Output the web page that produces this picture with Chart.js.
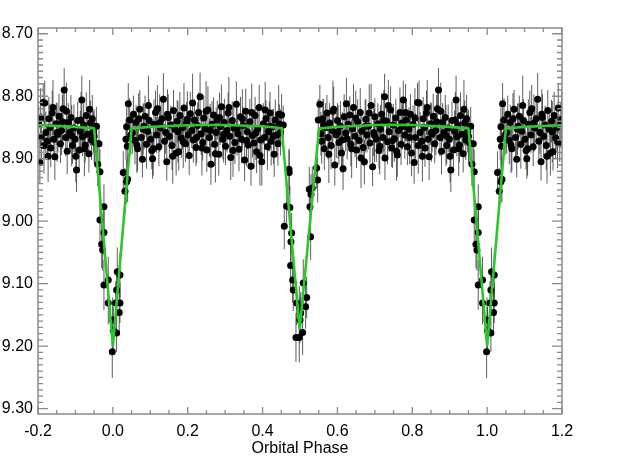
<!DOCTYPE html>
<html>
<head>
<meta charset="utf-8">
<title>Orbital phase light curve</title>
<script src="https://cdn.jsdelivr.net/npm/chart.js@4.4.1/dist/chart.umd.min.js"></script>
<style>
  html, body { margin: 0; padding: 0; background: #fff; }
  #wrap { width: 639px; height: 471px; position: relative; }
</style>
</head>
<body>
<div id="wrap"><canvas id="lc"></canvas></div>
<script>
// ---- Tick labels ----
const xTickValues = [-0.2, 0.0, 0.2, 0.4, 0.6, 0.8, 1.0, 1.2];
const yTickValues = [8.70, 8.80, 8.90, 9.00, 9.10, 9.20, 9.30];

// ---- Out-of-eclipse photometry, phase 0.05 - 0.45 ----
const phaseA = [
  0.052, 0.055, 0.059, 0.062, 0.066, 0.069, 0.072, 0.076, 0.079, 0.083,
  0.086, 0.090, 0.093, 0.097, 0.101, 0.104, 0.106, 0.110, 0.114, 0.117,
  0.119, 0.123, 0.127, 0.131, 0.135, 0.138, 0.141, 0.144, 0.148, 0.151,
  0.155, 0.158, 0.162, 0.166, 0.169, 0.172, 0.176, 0.179, 0.183, 0.186,
  0.190, 0.194, 0.197, 0.201, 0.204, 0.207, 0.211, 0.215, 0.218, 0.222,
  0.226, 0.229, 0.233, 0.236, 0.240, 0.243, 0.247, 0.251, 0.254, 0.258,
  0.262, 0.265, 0.269, 0.272, 0.276, 0.279, 0.283, 0.287, 0.290, 0.294,
  0.298, 0.301, 0.305, 0.308, 0.312, 0.315, 0.319, 0.323, 0.326, 0.330,
  0.334, 0.337, 0.341, 0.344, 0.348, 0.352, 0.355, 0.359, 0.362, 0.366,
  0.369, 0.373, 0.377, 0.380, 0.384, 0.387, 0.391, 0.395, 0.398, 0.402,
  0.405, 0.409, 0.413, 0.416, 0.420, 0.423, 0.427, 0.431, 0.434, 0.438,
  0.441, 0.445, 0.448
];
const magA = [
  8.858, 8.829, 8.871, 8.842, 8.884, 8.836, 8.821, 8.866, 8.901, 8.848,
  8.832, 8.877, 8.856, 8.839, 8.869, 8.887, 8.900, 8.845, 8.826, 8.862,
  8.820, 8.881, 8.851, 8.836, 8.805, 8.872, 8.858, 8.905, 8.834, 8.864,
  8.846, 8.879, 8.823, 8.853, 8.891, 8.840, 8.889, 8.831, 8.867, 8.850,
  8.819, 8.876, 8.843, 8.862, 8.895, 8.828, 8.855, 8.870, 8.838, 8.882,
  8.847, 8.826, 8.801, 8.860, 8.874, 8.835, 8.852, 8.886, 8.822, 8.866,
  8.909, 8.845, 8.830, 8.877, 8.858, 8.838, 8.893, 8.849, 8.817, 8.869,
  8.842, 8.880, 8.855, 8.827, 8.864, 8.898, 8.839, 8.851, 8.874, 8.813,
  8.860, 8.885, 8.833, 8.869, 8.847, 8.902, 8.824, 8.857, 8.878, 8.841,
  8.912, 8.863, 8.875, 8.831, 8.889, 8.852, 8.818, 8.870, 8.905, 8.844,
  8.866, 8.836, 8.881, 8.857, 8.827, 8.872, 8.849, 8.893, 8.838, 8.862,
  8.876, 8.845, 8.858
];
const errA = [
  0.034, 0.030, 0.038, 0.028, 0.036, 0.041, 0.031, 0.035, 0.029, 0.037,
  0.033, 0.039, 0.027, 0.034, 0.036, 0.030, 0.032, 0.040, 0.035, 0.029,
  0.038, 0.031, 0.036, 0.033, 0.042, 0.028, 0.034, 0.030, 0.037, 0.035,
  0.031, 0.039, 0.033, 0.027, 0.036, 0.034, 0.030, 0.038, 0.032, 0.035,
  0.040, 0.029, 0.034, 0.037, 0.031, 0.035, 0.028, 0.036, 0.033, 0.030,
  0.037, 0.032, 0.039, 0.034, 0.029, 0.036, 0.031, 0.035, 0.038, 0.030,
  0.033, 0.037, 0.028, 0.035, 0.040, 0.031, 0.034, 0.029, 0.036, 0.032,
  0.038, 0.030, 0.035, 0.033, 0.027, 0.036, 0.031, 0.039, 0.034, 0.037,
  0.029, 0.035, 0.032, 0.038, 0.030, 0.034, 0.036, 0.028, 0.033, 0.037,
  0.031, 0.035, 0.039, 0.030, 0.034, 0.032, 0.036, 0.029, 0.038, 0.033,
  0.035, 0.030, 0.037, 0.031, 0.034, 0.039, 0.028, 0.036, 0.033, 0.030,
  0.035, 0.032, 0.037
];

// ---- Out-of-eclipse photometry, phase 0.55 - 0.96 ----
const phaseB = [
  0.558, 0.561, 0.565, 0.568, 0.572, 0.575, 0.579, 0.583, 0.586, 0.590,
  0.593, 0.597, 0.600, 0.604, 0.608, 0.611, 0.615, 0.618, 0.622, 0.626,
  0.629, 0.633, 0.636, 0.640, 0.643, 0.647, 0.651, 0.654, 0.658, 0.661,
  0.665, 0.669, 0.672, 0.676, 0.679, 0.683, 0.687, 0.690, 0.694, 0.697,
  0.700, 0.704, 0.708, 0.711, 0.715, 0.718, 0.722, 0.726, 0.727, 0.731,
  0.734, 0.738, 0.742, 0.745, 0.749, 0.752, 0.756, 0.760, 0.763, 0.767,
  0.770, 0.774, 0.776, 0.780, 0.784, 0.787, 0.791, 0.795, 0.798, 0.802,
  0.805, 0.809, 0.814, 0.818, 0.821, 0.825, 0.829, 0.832, 0.834, 0.838,
  0.842, 0.845, 0.849, 0.853, 0.856, 0.860, 0.863, 0.867, 0.870, 0.874,
  0.878, 0.881, 0.885, 0.888, 0.892, 0.896, 0.899, 0.903, 0.906, 0.910,
  0.913, 0.917, 0.919, 0.922, 0.926, 0.929, 0.933, 0.936, 0.940, 0.943,
  0.945, 0.948, 0.952, 0.956
];
const magB = [
  8.872, 8.836, 8.884, 8.850, 8.827, 8.866, 8.843, 8.879, 8.855, 8.821,
  8.910, 8.862, 8.839, 8.874, 8.848, 8.891, 8.916, 8.833, 8.859, 8.868,
  8.845, 8.830, 8.877, 8.852, 8.818, 8.864, 8.886, 8.841, 8.871, 8.826,
  8.856, 8.882, 8.905, 8.837, 8.862, 8.848, 8.875, 8.815, 8.913, 8.858,
  8.833, 8.869, 8.844, 8.887, 8.853, 8.829, 8.866, 8.801, 8.899, 8.840,
  8.873, 8.857, 8.822, 8.883, 8.846, 8.868, 8.835, 8.894, 8.855, 8.826,
  8.877, 8.849, 8.806, 8.862, 8.838, 8.881, 8.853, 8.829, 8.891, 8.845,
  8.906, 8.866, 8.810, 8.811, 8.858, 8.872, 8.836, 8.850, 8.883, 8.827,
  8.869, 8.897, 8.844, 8.861, 8.832, 8.876, 8.855, 8.820, 8.790, 8.866,
  8.888, 8.842, 8.858, 8.834, 8.879, 8.851, 8.869, 8.918, 8.839, 8.886,
  8.856, 8.806, 8.865, 8.846, 8.878, 8.831, 8.861, 8.892, 8.843, 8.870,
  8.836, 8.857, 8.874, 8.848
];
const errB = [
  0.036, 0.031, 0.034, 0.039, 0.029, 0.035, 0.032, 0.038, 0.030, 0.036,
  0.033, 0.037, 0.028, 0.035, 0.040, 0.031, 0.034, 0.036, 0.029, 0.033,
  0.038, 0.030, 0.035, 0.032, 0.037, 0.034, 0.029, 0.036, 0.031, 0.039,
  0.034, 0.030, 0.036, 0.033, 0.028, 0.037, 0.032, 0.035, 0.031, 0.038,
  0.030, 0.036, 0.033, 0.029, 0.039, 0.034, 0.031, 0.037, 0.035, 0.028,
  0.036, 0.032, 0.038, 0.030, 0.034, 0.037, 0.031, 0.035, 0.029, 0.040,
  0.033, 0.036, 0.031, 0.038, 0.034, 0.029, 0.035, 0.032, 0.037, 0.030,
  0.034, 0.039, 0.031, 0.036, 0.033, 0.028, 0.035, 0.038, 0.030, 0.036,
  0.032, 0.037, 0.034, 0.029, 0.036, 0.031, 0.039, 0.033, 0.035, 0.030,
  0.037, 0.031, 0.034, 0.036, 0.029, 0.038, 0.032, 0.035, 0.030, 0.036,
  0.033, 0.039, 0.031, 0.035, 0.028, 0.037, 0.034, 0.030, 0.036, 0.032,
  0.038, 0.033, 0.035, 0.031
];

// ---- Further out-of-eclipse frames (noisier), both halves ----
const phaseC = [
  0.064, 0.081, 0.095, 0.108, 0.125, 0.146, 0.160, 0.174, 0.188, 0.199,
  0.213, 0.224, 0.238, 0.249, 0.260, 0.274, 0.285, 0.296, 0.310, 0.321,
  0.332, 0.346, 0.357, 0.371, 0.382, 0.393, 0.407, 0.418, 0.429, 0.443,
  0.563, 0.577, 0.588, 0.602, 0.613, 0.624, 0.638, 0.649, 0.663, 0.674,
  0.685, 0.699, 0.713, 0.724, 0.736, 0.747, 0.758, 0.772, 0.782, 0.793,
  0.807, 0.816, 0.827, 0.840, 0.851, 0.865, 0.876, 0.890, 0.901, 0.915,
  0.924, 0.938, 0.950
];
const magC = [
  8.878, 8.853, 8.815, 8.884, 8.843, 8.829, 8.896, 8.857, 8.873, 8.837,
  8.811, 8.866, 8.883, 8.824, 8.855, 8.892, 8.834, 8.861, 8.818, 8.887,
  8.851, 8.836, 8.871, 8.826, 8.859, 8.895, 8.822, 8.848, 8.864, 8.829,
  8.846, 8.893, 8.824, 8.857, 8.870, 8.812, 8.884, 8.835, 8.899, 8.848,
  8.827, 8.863, 8.880, 8.839, 8.815, 8.871, 8.888, 8.843, 8.826, 8.866,
  8.835, 8.879, 8.896, 8.818, 8.858, 8.841, 8.824, 8.863, 8.896, 8.838,
  8.884, 8.821, 8.864
];
const errC = [
  0.045, 0.041, 0.048, 0.043, 0.046, 0.040, 0.044, 0.049, 0.042, 0.045,
  0.047, 0.041, 0.044, 0.048, 0.043, 0.046, 0.040, 0.045, 0.049, 0.042,
  0.044, 0.047, 0.041, 0.046, 0.043, 0.048, 0.045, 0.040, 0.044, 0.047,
  0.042, 0.046, 0.049, 0.043, 0.045, 0.041, 0.047, 0.044, 0.048, 0.042,
  0.046, 0.043, 0.045, 0.049, 0.041, 0.044, 0.047, 0.042, 0.046, 0.043,
  0.048, 0.045, 0.041, 0.044, 0.047, 0.043, 0.046, 0.049, 0.042, 0.045,
  0.044, 0.047, 0.043
];

// ---- Primary eclipse (phase 0) ----
const phasePri = [
  0.9594, 0.9630, 0.9655, 0.9655, 0.9701, 0.9727, 0.9762, 0.9762, 0.9762, 0.9877,
  0.9877, 0.9985, 0.9995, 0.0010, 0.0075, 0.0100, 0.0100, 0.0118, 0.0170, 0.0190,
  0.0190, 0.0278, 0.0323, 0.0350, 0.0368, 0.0368, 0.0385, 0.0395, 0.0412, 0.0450,
  0.0480
];
const magPri = [
  8.909, 8.876, 8.921, 8.998, 9.037, 9.046, 8.977, 9.018, 9.102, 9.094,
  9.131, 9.209, 9.158, 9.175, 9.131, 9.110, 9.179, 9.081, 9.146, 9.131,
  9.086, 8.922, 8.952, 8.869, 8.937, 8.849, 8.880, 8.933, 8.812, 8.838,
  8.862
];
const errPri = [
  0.035, 0.032, 0.036, 0.034, 0.038, 0.033, 0.036, 0.035, 0.040, 0.037,
  0.034, 0.042, 0.036, 0.038, 0.035, 0.033, 0.030, 0.039, 0.035, 0.032,
  0.036, 0.034, 0.037, 0.033, 0.035, 0.031, 0.034, 0.036, 0.033, 0.035,
  0.032
];

// ---- Secondary eclipse (phase 0.5) ----
const phaseSec = [
  0.4509, 0.4553, 0.4580, 0.4643, 0.4705, 0.4712, 0.4730, 0.4750, 0.4758, 0.4777,
  0.4804, 0.4820, 0.4892, 0.4911, 0.4980, 0.4980, 0.4999, 0.5018, 0.5070, 0.5087,
  0.5150, 0.5178, 0.5248, 0.5266, 0.5284, 0.5293, 0.5328, 0.5445, 0.5472, 0.5488,
  0.5530, 0.5560
];
const magSec = [
  8.830, 8.846, 9.008, 8.976, 8.917, 8.922, 8.978, 9.071, 9.033, 9.019,
  9.094, 9.110, 9.186, 9.131, 9.137, 9.186, 9.158, 9.147, 9.178, 9.099,
  9.137, 9.122, 8.949, 8.977, 9.025, 8.957, 8.947, 8.915, 8.934, 8.838,
  8.813, 8.860
];
const errSec = [
  0.034, 0.031, 0.037, 0.035, 0.033, 0.036, 0.034, 0.038, 0.035, 0.032,
  0.036, 0.034, 0.039, 0.035, 0.033, 0.040, 0.037, 0.034, 0.036, 0.038,
  0.035, 0.033, 0.036, 0.034, 0.037, 0.032, 0.035, 0.033, 0.036, 0.034,
  0.031, 0.035
];

// ---- Model light curve (one cycle) ----
const modelPhase = [0.000, 0.050, 0.100, 0.200, 0.250, 0.300, 0.400, 0.451, 0.499,
                    0.551, 0.600, 0.700, 0.750, 0.800, 0.900, 0.950, 1.000];
const modelMag   = [9.200, 8.8515, 8.849, 8.8465, 8.846, 8.846, 8.848, 8.851, 9.173,
                    8.8515, 8.849, 8.846, 8.8458, 8.846, 8.849, 8.8515, 9.200];

const FONT_FAMILY = '"Liberation Sans", Arial, Helvetica, sans-serif';
const AXIS_GREY = '#8a8a8a';

// Plot -0.2..1.2: repeat the end of the cycle before 0 and the start after 1
function wrapPhases(list) {
  const before = list.filter(p => p.x >= 0.8).map(p => ({ ...p, x: p.x - 1 }));
  const after = list.filter(p => p.x <= 0.2).map(p => ({ ...p, x: p.x + 1 }));
  return before.concat(list, after);
}

function zipObs(ph, mg, er) {
  const n = Math.min(ph.length, mg.length, er.length);
  const out = [];
  for (let i = 0; i < n; i++) out.push({ x: ph[i], y: mg[i], e: er[i] });
  return out;
}

const obs = wrapPhases([
  ...zipObs(phaseA, magA, errA),
  ...zipObs(phaseB, magB, errB),
  ...zipObs(phaseC, magC, errC),
  ...zipObs(phasePri, magPri, errPri),
  ...zipObs(phaseSec, magSec, errSec)
]);
const model = wrapPhases(modelPhase.map((p, i) => ({ x: p, y: modelMag[i] })));

// Vertical error bars, drawn under the points
const errorBars = {
  id: 'errorBars',
  beforeDatasetsDraw(chart) {
    const { ctx, chartArea: a, scales: { x, y } } = chart;
    ctx.save();
    ctx.beginPath();
    ctx.rect(a.left, a.top, a.right - a.left, a.bottom - a.top);
    ctx.clip();
    ctx.strokeStyle = 'rgba(40,40,40,0.75)';
    ctx.lineWidth = 1;
    ctx.beginPath();
    obs.forEach(p => {
      const px = x.getPixelForValue(p.x);
      ctx.moveTo(px, y.getPixelForValue(p.y - p.e));
      ctx.lineTo(px, y.getPixelForValue(p.y + p.e));
    });
    ctx.stroke();
    ctx.restore();
  }
};

// Box frame with inward major/minor ticks on all four sides
const frameTicks = {
  id: 'frameTicks',
  afterDraw(chart) {
    const { ctx, chartArea: a, scales: { x, y } } = chart;
    ctx.save();
    ctx.strokeStyle = AXIS_GREY;
    ctx.lineWidth = 1.3;
    ctx.beginPath();
    // x ticks: majors every 0.2, minors every 0.05
    for (let i = 0; i < xTickValues.length; i++) {
      const v = xTickValues[i];
      const px = x.getPixelForValue(v);
      ctx.moveTo(px, a.bottom); ctx.lineTo(px, a.bottom - 7);
      ctx.moveTo(px, a.top); ctx.lineTo(px, a.top + 7);
      if (i < xTickValues.length - 1) {
        const step = (xTickValues[i + 1] - v) / 4;
        for (let k = 1; k < 4; k++) {
          const mx = x.getPixelForValue(v + k * step);
          ctx.moveTo(mx, a.bottom); ctx.lineTo(mx, a.bottom - 4);
          ctx.moveTo(mx, a.top); ctx.lineTo(mx, a.top + 4);
        }
      }
    }
    // y ticks: majors every 0.1, minors every 0.01
    for (let i = 0; i < yTickValues.length; i++) {
      const v = yTickValues[i];
      const py = y.getPixelForValue(v);
      ctx.moveTo(a.left, py); ctx.lineTo(a.left + 10, py);
      ctx.moveTo(a.right, py); ctx.lineTo(a.right - 10, py);
      if (i < yTickValues.length - 1) {
        const step = (yTickValues[i + 1] - v) / 10;
        for (let k = 1; k < 10; k++) {
          const my = y.getPixelForValue(v + k * step);
          ctx.moveTo(a.left, my); ctx.lineTo(a.left + 5, my);
          ctx.moveTo(a.right, my); ctx.lineTo(a.right - 5, my);
        }
      }
    }
    ctx.stroke();
    ctx.lineWidth = 1.5;
    ctx.strokeRect(a.left, a.top, a.right - a.left, a.bottom - a.top);
    ctx.restore();
  }
};

new Chart(document.getElementById('lc'), {
  type: 'scatter',
  data: {
    datasets: [
      {
        label: 'Model',
        data: model,
        showLine: true,
        borderColor: '#2bc82b',
        borderWidth: 2.6,
        pointRadius: 0,
        tension: 0
      },
      {
        label: 'Observed',
        data: obs,
        pointRadius: 3.5,
        pointBorderWidth: 0,
        backgroundColor: '#000',
        borderColor: '#000'
      }
    ]
  },
  options: {
    responsive: true,
    maintainAspectRatio: false,
    animation: false,
    layout: { padding: { left: 0, top: 28, right: 77, bottom: 0 } },
    plugins: {
      legend: { display: false },
      tooltip: { enabled: false }
    },
    scales: {
      x: {
        type: 'linear',
        min: -0.2,
        max: 1.2,
        afterBuildTicks: s => { s.ticks = xTickValues.map(v => ({ value: v })); },
        afterFit: s => { s.height = 57; },
        grid: { display: false, drawTicks: false },
        border: { display: false },
        ticks: {
          color: '#000',
          padding: 8,
          maxRotation: 0,
          font: { family: FONT_FAMILY, size: 16 },
          callback: v => v.toFixed(1)
        },
        title: {
          display: true,
          text: 'Orbital Phase',
          color: '#000',
          font: { family: FONT_FAMILY, size: 16 },
          padding: { top: 0, bottom: 13 }
        }
      },
      y: {
        type: 'linear',
        reverse: true,
        min: 8.6908,
        max: 9.3085,
        afterBuildTicks: s => { s.ticks = yTickValues.map(v => ({ value: v })); },
        afterFit: s => { s.width = 38; },
        grid: { display: false, drawTicks: false },
        border: { display: false },
        ticks: {
          color: '#000',
          padding: 5,
          font: { family: FONT_FAMILY, size: 16 },
          callback: v => v.toFixed(2)
        }
      }
    }
  },
  plugins: [errorBars, frameTicks]
});
</script>
</body>
</html>
